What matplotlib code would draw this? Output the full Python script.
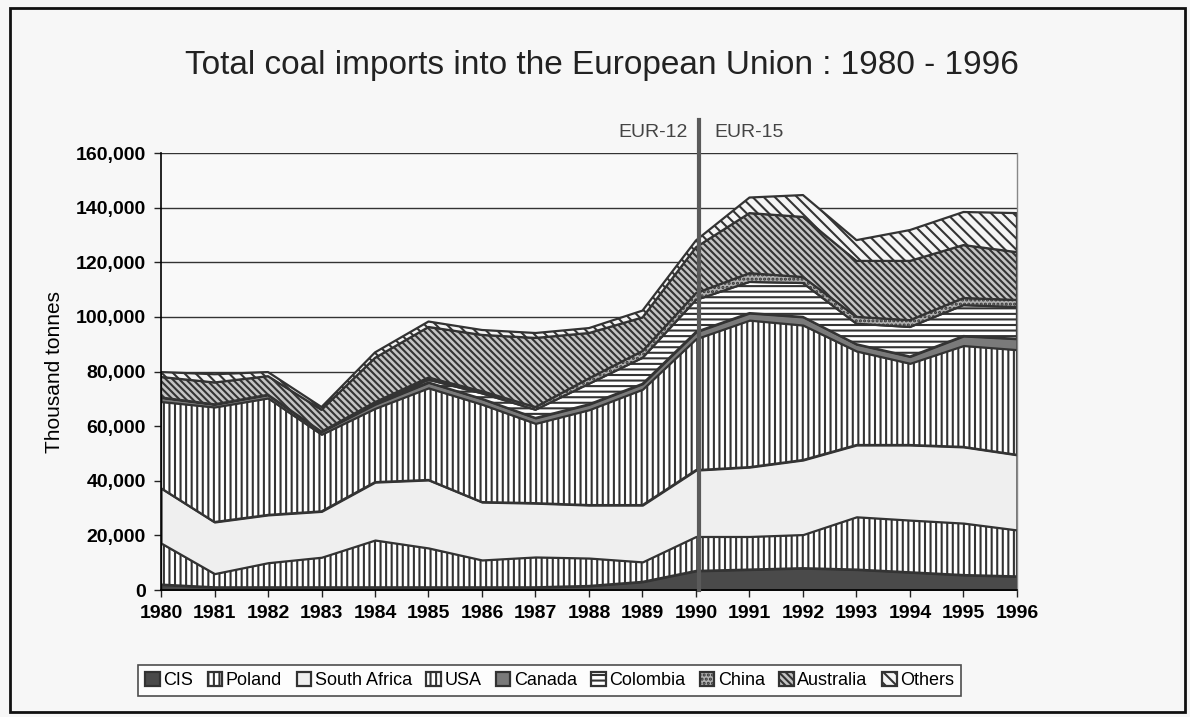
import matplotlib
matplotlib.use("Agg")
import matplotlib.pyplot as plt
from matplotlib.patches import Rectangle
from matplotlib.ticker import FuncFormatter


# =========================================================
# Data (thousand tonnes)
# =========================================================

years = list(range(1980, 1997))

cis = [2000, 1000, 1000, 1000, 1000, 1000, 1000, 1000, 1500, 3000,
       7000, 7500, 8000, 7500, 6500, 5500, 5000]
poland = [15200, 5000, 9000, 11000, 17300, 14400, 10000, 11100, 10200, 7300,
          12600, 12100, 12300, 19300, 19100, 19000, 17000]
south_africa = [20100, 18900, 17500, 16800, 21200, 24900, 21200, 19700, 19400, 20800,
                24300, 25400, 27300, 26300, 27500, 27900, 27500]
usa = [31700, 42100, 42800, 28200, 27000, 33700, 35800, 29200, 34900, 42400,
       48100, 53800, 49400, 34400, 29900, 37100, 38500]
canada = [1500, 1000, 1200, 1000, 1500, 2000, 2000, 2000, 2000, 2000,
          2500, 2600, 3000, 2500, 2500, 3500, 4000]
colombia = [0, 0, 0, 0, 300, 1000, 2000, 3000, 7500, 9500,
            11700, 11400, 12400, 7500, 10800, 11300, 11600]
china = [0, 0, 0, 0, 500, 800, 800, 1000, 2000, 2500,
         2500, 3200, 2200, 2500, 2500, 2600, 2600]
australia = [7500, 8000, 6800, 8000, 16200, 18500, 20600, 25300, 16600, 12300,
             16800, 22000, 22000, 20500, 21700, 19400, 17500]
others = [1800, 3000, 1500, 1000, 2000, 2000, 1800, 1800, 1800, 2500,
          2500, 5700, 8000, 7600, 11300, 12100, 14300]

SERIES = [
    ("CIS", cis),
    ("Poland", poland),
    ("South Africa", south_africa),
    ("USA", usa),
    ("Canada", canada),
    ("Colombia", colombia),
    ("China", china),
    ("Australia", australia),
    ("Others", others),
]

# face colour, hatch
STYLES = {
    "CIS": ("#4a4a4a", None),
    "Poland": ("#ffffff", "|||"),
    "South Africa": ("#efefef", None),
    "USA": ("#ffffff", "|||"),
    "Canada": ("#7a7a7a", None),
    "Colombia": ("#ffffff", "---"),
    "China": ("#b0b0b0", "...."),
    "Australia": ("#c4c4c4", "\\\\\\\\\\"),
    "Others": ("#f4f4f4", "\\\\\\"),
}

# =========================================================
# Plot
# =========================================================

plt.rcParams["font.family"] = ["Liberation Sans", "DejaVu Sans"]
plt.rcParams["hatch.linewidth"] = 1.5

fig = plt.figure(figsize=(11.9, 7.17), dpi=100, facecolor="#f7f7f7")
ax = fig.add_axes([0.1353, 0.1771, 0.7193, 0.6095])
ax.set_facecolor("#f9f9f9")

base = [0] * len(years)
for name, vals in SERIES:
    top = [b + v for b, v in zip(base, vals)]
    face, hatch = STYLES[name]
    ax.fill_between(
        years, base, top,
        facecolor=face,
        edgecolor="#333333",
        hatch=hatch,
        linewidth=1.6,
        label=name,
        zorder=2,
    )
    base = top

ax.set_xlim(1980, 1996)
ax.set_ylim(0, 160000)
ax.set_xticks(years)
ax.set_xticklabels([str(y) for y in years], fontweight="bold", fontsize=14)
ax.set_yticks(range(0, 160001, 20000))
ax.yaxis.set_major_formatter(FuncFormatter(lambda v, _: f"{int(v):,}"))
for lab in ax.get_yticklabels():
    lab.set_fontweight("bold")
    lab.set_fontsize(14)
ax.tick_params(axis="both", direction="out", length=5, width=1, color="#222222", pad=6)

ax.grid(axis="y", color="#333333", linewidth=1, zorder=1)
ax.set_axisbelow(True)
ax.spines["top"].set_visible(False)
ax.spines["right"].set_color("#888888")
ax.spines["right"].set_linewidth(1)
ax.spines["left"].set_linewidth(1.2)
ax.spines["bottom"].set_linewidth(1.2)

ax.set_ylabel("Thousand tonnes", fontsize=15, labelpad=8)

# EUR-12 / EUR-15 split
ax.axvline(1990.05, ymin=0, ymax=1.075, color="#5a5a5a", linewidth=3,
           clip_on=False, zorder=5)
ax.text(1989.85, 167500, "EUR-12", ha="right", va="center", fontsize=14, color="#444444")
ax.text(1990.35, 167500, "EUR-15", ha="left", va="center", fontsize=14, color="#444444")

fig.text(0.506, 0.909, "Total coal imports into the European Union : 1980 - 1996",
         ha="center", va="center", fontsize=24, color="#222222")

leg = fig.legend(
    loc="center",
    bbox_to_anchor=(0.462, 0.051),
    ncol=9,
    fontsize=13,
    frameon=True,
    fancybox=False,
    edgecolor="#222222",
    handlelength=0.8,
    handleheight=0.8,
    handletextpad=0.2,
    columnspacing=0.8,
    borderpad=0.4,
)
leg.get_frame().set_facecolor("#ffffff")
leg.get_frame().set_linewidth(1.2)

# outer chart border
fig.patches.append(Rectangle((0.008, 0.007), 0.988, 0.982, transform=fig.transFigure,
                             fill=False, edgecolor="#111111", linewidth=2))

fig.savefig("out.png", dpi=100, facecolor=fig.get_facecolor())
